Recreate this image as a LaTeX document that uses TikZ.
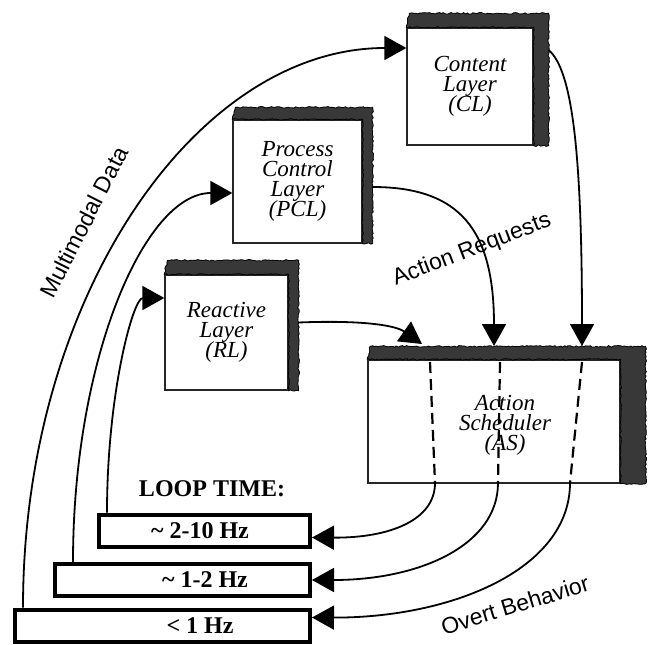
\documentclass[tikz,border=0pt]{standalone}
\usepackage{fontspec}
\setmainfont{Liberation Serif}
\setsansfont{Liberation Sans}
\usetikzlibrary{arrows.meta,calc,decorations.pathmorphing}

\newcommand{\layerfont}{\itshape\fontsize{23}{20}\selectfont\setlength{\lineskiplimit}{-10pt}}

\begin{document}
\begin{tikzpicture}[x=1pt, y=-1pt,
    layer/.style={rectangle, draw=black!85, line width=1.3pt, fill=white, align=center,
        font=\layerfont},
    shade/.style={fill=black!78, draw=black, line width=0.8pt, decorate,
        decoration={random steps, segment length=2pt, amplitude=0.8pt}},
    hzbox/.style={rectangle, draw, line width=4pt, minimum height=32},
    hztext/.style={font=\bfseries\fontsize{24}{26}\selectfont},
    arrow/.style={-{Triangle[length=22pt,width=24pt]}, line width=1.8pt},
    sched/.style={line width=2.2pt, dash pattern=on 11pt off 6pt},
    lbl/.style={font=\sffamily\fontsize{23}{26}\selectfont}
]
\pgfmathsetseed{7}
\useasboundingbox (0,0) rectangle (651,645);

% Layers
\node[layer, minimum width=126, minimum height=117] (cl) at (470,86.5) {Content\\Layer\\(CL)};
\node[layer, minimum width=129, minimum height=123] (pcl) at (297.5,181.5) {Process\\Control\\Layer\\(PCL)};
\node[layer, minimum width=123, minimum height=115] (rl) at (226.5,332.5) {Reactive\\Layer\\(RL)};
\node[layer, minimum width=252, minimum height=123] (as) at (494,421.5) {};
\node[layer, draw=none, fill=none] (astext) at (505,425) {Action\\Scheduler\\(AS)};

% dark top and right edges
\foreach \n/\dy/\dx in {cl/14/15, pcl/12/10, rl/14/10, as/13/25}
  \fill[shade] (\n.north west) -- ($(\n.north west)+(3,-\dy)$) -- ($(\n.north east)+(\dx,-\dy)$)
    -- ($(\n.south east)+(\dx,0)$) -- (\n.south east) -- (\n.north east) -- cycle;

% Scheduler lanes
\coordinate (in1) at (422,344);
\coordinate (in2) at (494,346);
\coordinate (in3) at (582,346);
\coordinate (top1) at (430,362);
\coordinate (top2) at (500,362);
\coordinate (top3) at (582,362);
\coordinate (out1) at (435,483);
\coordinate (out2) at (498,483);
\coordinate (out3) at (570,483);
\foreach \i in {1,2,3}
  \draw[sched] (top\i) -- (out\i);

% Loop times
\node[hztext] (loop) at (212,489) {LOOP TIME:};
\node[hzbox, minimum width=211] (hz1) at (204.5,530.5) {};
\node[hzbox, minimum width=255] (hz2) at (182.5,580) {};
\node[hzbox, minimum width=295] (hz3) at (162.5,625.5) {};
\node[hztext] (hz1text) at (200,531) {\textasciitilde\ 2-10 Hz};
\node[hztext] (hz2text) at (205,580) {\textasciitilde\ 1-2 Hz};
\node[hztext] (hz3text) at (200,626) {< 1 Hz};

% Input data
\draw[arrow] ($(hz1.north west)+(10,0)$) .. controls (107,394) and (133,298) .. ([shift={(0,-34.5)}]rl.west);
\draw[arrow] ($(hz2.north west)+(20,0)$) .. controls (73,358) and (145,193) .. ([shift={(0,11.5)}]pcl.west);
\draw[arrow] ($(hz3.north west)+(10,0)$) .. controls (23,299) and (195,48) .. ([shift={(0,-38.5)}]cl.west);

% Requests
\draw[arrow] ([shift={(10,-10)}]rl.east) .. controls (360,320) and (395,325) .. (in1);
\draw[arrow] ([shift={(10,5.5)}]pcl.east) .. controls (460,187) and (494,230) .. (in2);
\draw[arrow] ([shift={(15,-36.5)}]cl.east) .. controls (572,70) and (582,150) .. (in3);

% Behavior
\draw[arrow] (out1) .. controls (435,520) and (390,538) .. ([shift={(0,7)}]hz1.east);
\draw[arrow] (out2) .. controls (498,545) and (420,580) .. (hz2.east);
\draw[arrow] (out3) .. controls (570,570) and (450,618) .. ([shift={(0,-8)}]hz3.east);

\node[lbl, rotate=63] (mmdata) at (84,222) {Multimodal Data};
\node[lbl, rotate=21] (actreq) at (472,250) {Action Requests};
\node[lbl, rotate=17] (overt) at (515,605) {Overt Behavior};

\end{tikzpicture}
\end{document}
